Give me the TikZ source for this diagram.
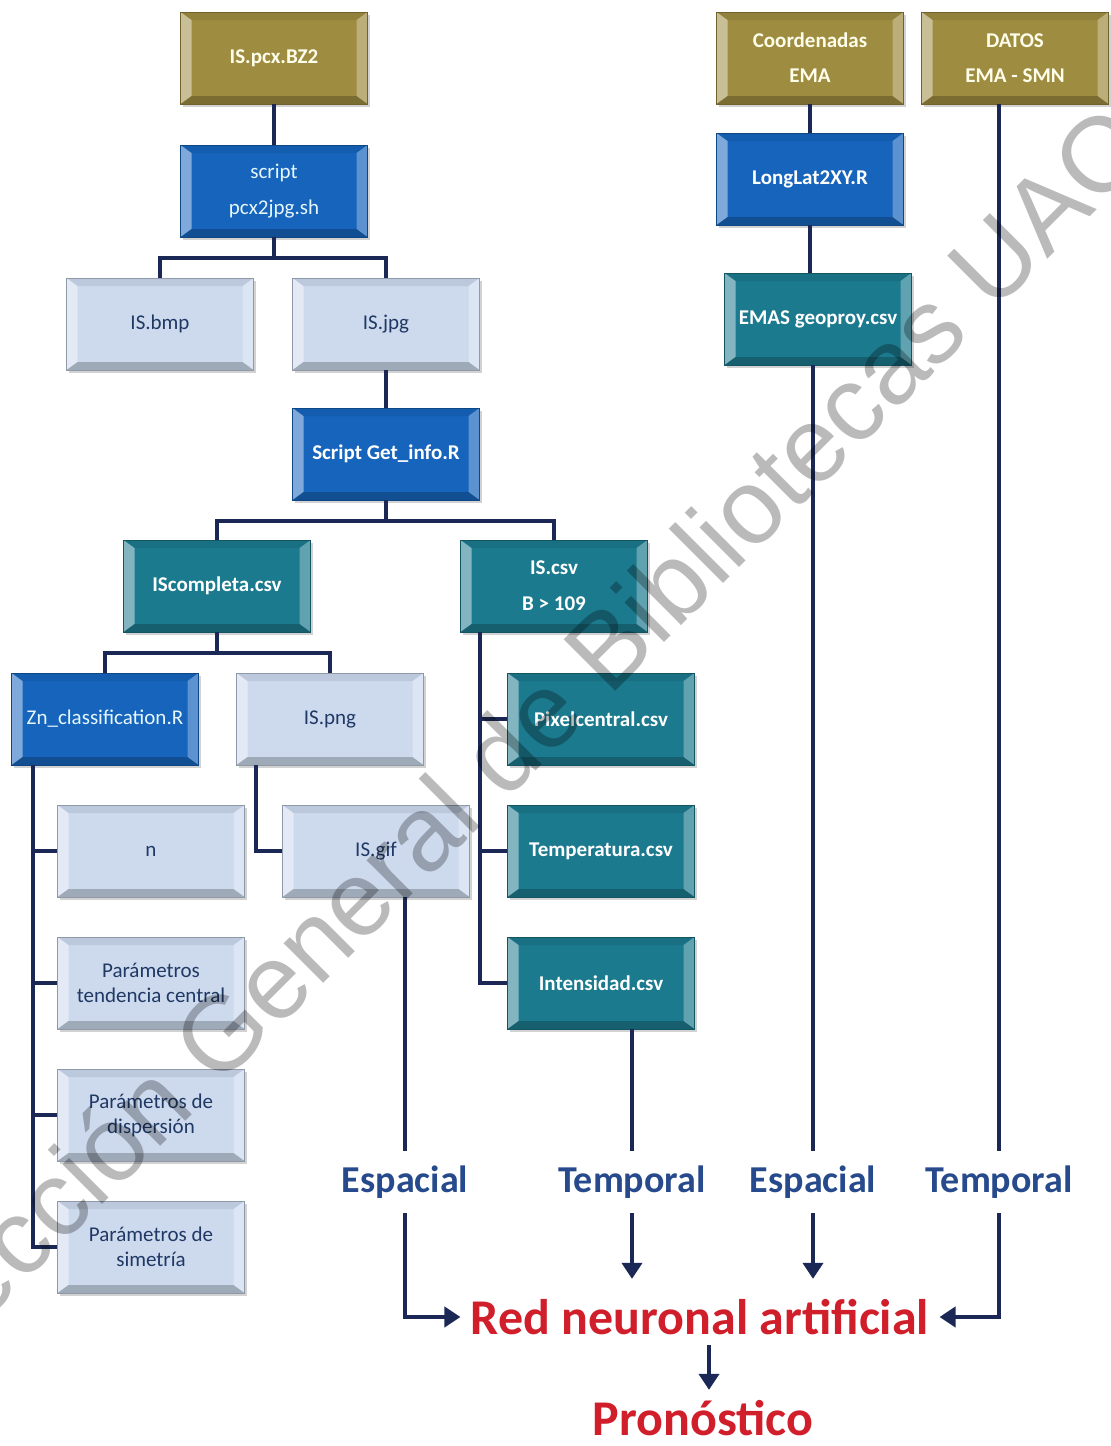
\documentclass[tikz,border=0pt]{standalone}
\usepackage{fontspec}
\setmainfont{Carlito}
\newfontfamily\wmfont{Liberation Sans}
\usetikzlibrary{arrows.meta,shadows,calc}

\definecolor{boxolive}{RGB}{158,140,64}
\definecolor{boxblue}{RGB}{22,100,188}
\definecolor{boxteal}{RGB}{28,122,142}
\definecolor{boxlight}{RGB}{205,218,238}
\definecolor{linkc}{RGB}{27,40,86}
\definecolor{lighttext}{RGB}{31,56,100}
\definecolor{labelblue}{RGB}{38,74,140}
\definecolor{rnared}{RGB}{208,30,42}

\tikzset{
  x=0.5pt, y=-0.5pt,
  box/.style={rectangle, fill=#1, draw=#1!70!black, line width=0.4pt,
    minimum width=93.5pt, minimum height=46pt, inner sep=1pt, align=center,
    drop shadow={shadow xshift=1.2pt, shadow yshift=-1.6pt, opacity=.35},
    path picture={
      \fill[white,opacity=.45]
        (path picture bounding box.north west) -- (path picture bounding box.south west)
        -- ([shift={(5.5pt,4pt)}]path picture bounding box.south west)
        -- ([shift={(5.5pt,-4pt)}]path picture bounding box.north west) -- cycle;
      \fill[white,opacity=.30]
        (path picture bounding box.north east) -- (path picture bounding box.south east)
        -- ([shift={(-5.5pt,4pt)}]path picture bounding box.south east)
        -- ([shift={(-5.5pt,-4pt)}]path picture bounding box.north east) -- cycle;
      \fill[black,opacity=.08]
        (path picture bounding box.north west) -- (path picture bounding box.north east)
        -- ([shift={(-5.5pt,-4pt)}]path picture bounding box.north east)
        -- ([shift={(5.5pt,-4pt)}]path picture bounding box.north west) -- cycle;
      \fill[black,opacity=.22]
        (path picture bounding box.south west) -- (path picture bounding box.south east)
        -- ([shift={(-5.5pt,4pt)}]path picture bounding box.south east)
        -- ([shift={(5.5pt,4pt)}]path picture bounding box.south west) -- cycle;
    }},
  srcbox/.style={box=boxolive, text=white!92!yellow, font=\fontsize{10.5}{17.5}\selectfont\bfseries},
  scriptbox/.style={box=boxblue, text=white!90!cyan, font=\fontsize{10.5}{18}\selectfont},
  scriptboldbox/.style={box=boxblue, text=white, font=\fontsize{10.5}{18}\selectfont\bfseries},
  csvbox/.style={box=boxteal, text=white, font=\fontsize{10.5}{18}\selectfont\bfseries},
  filebox/.style={box=boxlight, text=lighttext, font=\fontsize{10.5}{12.5}\selectfont},
  link/.style={draw=linkc, line width=2pt},
  arr/.style={link, -{Triangle[width=10pt,length=8pt]}},
  kind/.style={text=labelblue, font=\fontsize{19}{19}\selectfont\bfseries,
    inner sep=0pt, minimum height=31pt},
  result/.style={text=rnared, font=\fontsize{25}{25}\selectfont\bfseries,
    inner xsep=5pt, inner ysep=10pt},
}

\begin{document}
\begin{tikzpicture}
\useasboundingbox (0,0) rectangle (1111,1446);
\fill[white] (0,0) rectangle (1111,1446);

% ---- image processing chain ----
\node[srcbox]        (bz2)   at (274,58)   {IS.pcx.BZ2};
\node[scriptbox]     (scr)   at (274,191)  {script\\pcx2jpg.sh};
\node[filebox]       (bmp)   at (160,324)  {IS.bmp};
\node[filebox]       (jpg)   at (386,324)  {IS.jpg};
\node[scriptboldbox] (get)   at (386,454)  {Script Get\_info.R};
\node[csvbox]        (isc)   at (217,586)  {IScompleta.csv};
\node[csvbox]        (iscsv) at (554,586)  {IS.csv\\B > 109};
\node[scriptbox]     (zn)    at (105,719)  {Zn\_classification.R};
\node[filebox]       (png)   at (330,719)  {IS.png};
\node[csvbox]        (pix)   at (601,719)  {Pixelcentral.csv};
\node[filebox]       (nn)    at (151,851)  {n};
\node[filebox]       (gif)   at (376,851)  {IS.gif};
\node[csvbox]        (tem)   at (601,851)  {Temperatura.csv};
\node[filebox]       (ptc)   at (151,983)  {Parámetros\\tendencia central};
\node[csvbox]        (int)   at (601,983)  {Intensidad.csv};
\node[filebox]       (pdi)   at (151,1115) {Parámetros de\\dispersión};
\node[filebox]       (psi)   at (151,1247) {Parámetros de\\simetría};

% ---- station data chain ----
\node[srcbox]        (coo)   at (810,58)   {Coordenadas\\EMA};
\node[srcbox]        (dat)   at (1015,58)  {DATOS\\EMA - SMN};
\node[scriptboldbox] (ll)    at (810,179)  {LongLat2XY.R};
\node[csvbox]        (ema)   at (818,319)  {EMAS geoproy.csv};

% ---- input kinds and network ----
\node[kind]   (esp1) at (405,1182) {Espacial};
\node[kind]   (tmp1) at (632,1182) {Temporal};
\node[kind]   (esp2) at (813,1182) {Espacial};
\node[kind]   (tmp2) at (999,1182) {Temporal};
\node[result] (rna)  at (700,1317) {Red neuronal artificial};
\node[result, inner ysep=1pt] (pro) at (703,1418) {Pronóstico};

% bus positions
\coordinate (j1)   at (274,258);
\coordinate (j2)   at (386,521);
\coordinate (j3)   at (217,653);
\coordinate (zbus) at (33,0);
\coordinate (cbus) at (480,0);
\coordinate (pbus) at (256,0);

% ---- connectors ----
\draw[link] (bz2) -- (scr);
\draw[link] (scr.south) -- (j1) -| (bmp.north);
\draw[link] (j1) -| (jpg.north);
\draw[link] (jpg) -- (get);
\draw[link] (get.south) -- (j2) -| (isc.north);
\draw[link] (j2) -| (iscsv.north);
\draw[link] (isc.south) -- (j3) -| (zn.north);
\draw[link] (j3) -| (png.north);

\draw[link] (zbus |- zn.south) -- (zbus |- psi.west) -- (psi.west);
\draw[link] (zbus |- nn.west)  -- (nn.west);
\draw[link] (zbus |- ptc.west) -- (ptc.west);
\draw[link] (zbus |- pdi.west) -- (pdi.west);

\draw[link] (pbus |- png.south) |- (gif.west);

\draw[link] (cbus |- iscsv.south) -- (cbus |- int.west) -- (int.west);
\draw[link] (cbus |- pix.west) -- (pix.west);
\draw[link] (cbus |- tem.west) -- (tem.west);

\draw[link] (coo) -- (ll);
\draw[link] (ll.south) -- (ll.south |- ema.north);

\draw[link] (esp1 |- gif.south)  -- (esp1.north);
\draw[link] (tmp1 |- int.south)  -- (tmp1.north);
\draw[link] (esp2 |- ema.south)  -- (esp2.north);
\draw[link] (tmp2 |- dat.south)  -- (tmp2.north);

\draw[arr] (esp1.south) |- (rna.west);
\draw[arr] (tmp1.south) -- (tmp1 |- rna.north);
\draw[arr] (esp2.south) -- (esp2 |- rna.north);
\draw[arr] (tmp2.south) |- (rna.east);
\draw[arr] ([shift={(4.5pt,5pt)}]rna.south) -- ([shift={(3pt,4pt)}]pro.north);

% ---- library watermark ----
\begin{scope}
  \clip (0,0) rectangle (1111,1446);
  \node[rotate=45, text=black, opacity=.27, inner sep=0pt,
        font=\wmfont\fontsize{53}{53}\selectfont] (wm) at (500,766)
        {Dirección General de Bibliotecas UAQ};
\end{scope}
\end{tikzpicture}
\end{document}
